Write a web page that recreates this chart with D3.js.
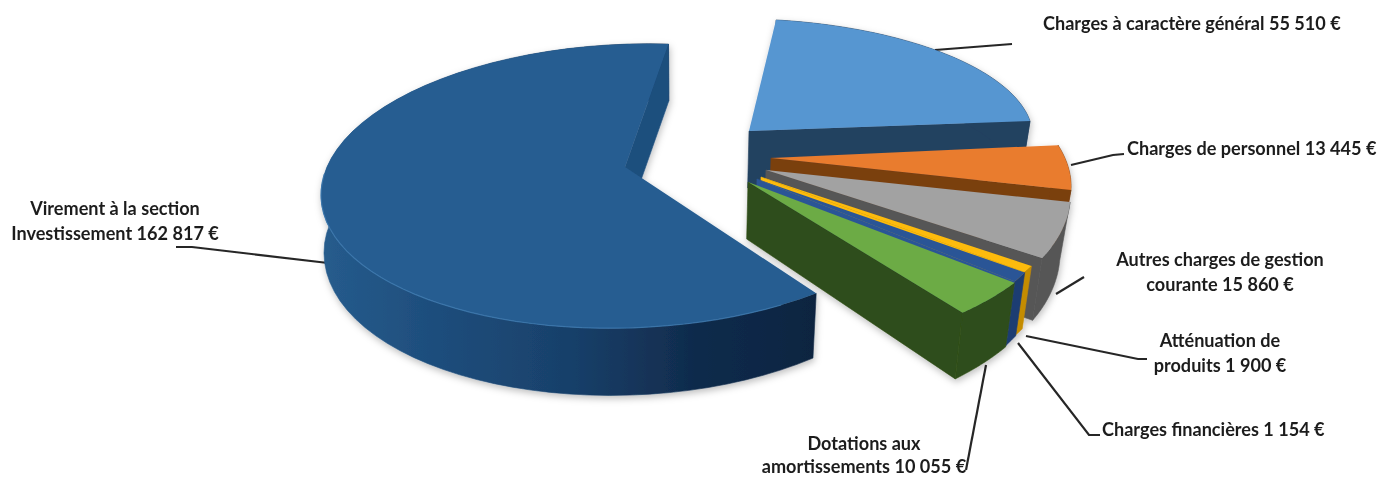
<!DOCTYPE html>
<html><head><meta charset="utf-8">
<script src="https://cdn.jsdelivr.net/npm/d3@7/dist/d3.min.js"></script>
<style>html,body{margin:0;padding:0;background:#fff;overflow:hidden}
text{font-family:Lato,Carlito,sans-serif;font-weight:700;font-size:18.1px;fill:#1c1c1c}</style>
</head><body><svg id="c" width="1381" height="477"></svg>
<script>
// ---- data
const categories = ["Charges à caractère général","Charges de personnel","Autres charges de gestion courante","Atténuation de produits","Charges financières","Dotations aux amortissements","Virement à la section Investissement"];
const values = [55510,13445,15860,1900,1154,10055,162817];
const labelLines = [
  ["Charges à caractère général 55 510 €"],
  ["Charges de personnel 13 445 €"],
  ["Autres charges de gestion","courante 15 860 €"],
  ["Atténuation de","produits 1 900 €"],
  ["Charges financières 1 154 €"],
  ["Dotations aux","amortissements 10 055 €"],
  ["Virement à la section","Investissement 162 817 €"]
];
// ---- styles
const topColors  = ["#5796d1","#e97b2e","#a2a2a2","#fdbb08","#2b5596","#6cab44","#265d91"];
const wallColors = ["#244260","#7a3f10","#565656","#c48c06","#1f3d72","#2f4d1a","url(#bigWall)"];
const endColors  = ["#244260","#7a3f10","#565656","#fdbb08","#2b5596","#2f4d1a","#1f4f7d"];
// ---- layout: per-slice projection of the unit circle (exploded, in perspective)
// apex (ax,ay), rim centre (cx,cy), x = cx + A sin + B cos, y = cy - (C sin + D cos)
const proj = [
  {ax:749,ay:131,cx:749,cy:131,A:283.6,B:-7.6,C:-2.5,D:112.2},
  {ax:771,ay:158,cx:771,cy:158,A:295,B:-55,C:-2.6,D:139.5},
  {ax:766,ay:170,cx:766,cy:170,A:300.6,B:-48.5,C:1.75,D:159.6},
  {ax:761,ay:177,cx:761,cy:177,A:307,B:-29,C:1.5,D:161},
  {ax:757,ay:179,cx:757,cy:179,A:425,B:121.9,C:117.5,D:314},
  {ax:748,ay:182,cx:748,cy:182,A:323,B:-21,C:5.8,D:170},
  {ax:625,ay:167,cx:629,cy:186,A:308,B:2,C:8,D:142}
];
const labelPos = [
  {x:1043,y:30,a:"start",lh:25},{x:1127,y:155,a:"start",lh:25},{x:1220,y:266,a:"middle",lh:25},
  {x:1220,y:347,a:"middle",lh:25},{x:1102,y:436,a:"start",lh:25},{x:864,y:450,a:"middle",lh:23},{x:115,y:215,a:"middle",lh:25}
];
const leaders = [
  [[935,50],[1012,44]],
  [[1071,165],[1113,155],[1124,154]],
  [[1056,294],[1084,277]],
  [[1026,336],[1138,359],[1147,359]],
  [[1018,343],[1089,435],[1100,435]],
  [[986,365],[966,470]],
  [[328,263],[192,247],[176,247]]
];
const startDeg = 7;

const svg = d3.select("#c");
const defs = svg.append("defs");
const g1 = defs.append("linearGradient").attr("id","bigWall").attr("gradientUnits","userSpaceOnUse")
  .attr("x1",320).attr("x2",820).attr("y1",0).attr("y2",0);
[[0,"#265c8d"],[.2,"#1f4f7e"],[.5,"#18406a"],[.75,"#102b4c"],[1,"#0b2440"]].forEach(s=>g1.append("stop").attr("offset",s[0]).attr("stop-color",s[1]));
const f = defs.append("filter").attr("id","sh").attr("x","-5%").attr("y","-5%").attr("width","110%").attr("height","115%");
f.append("feDropShadow").attr("dx",1).attr("dy",3).attr("stdDeviation",3.5).attr("flood-color","#000").attr("flood-opacity",.25);
const b = defs.append("filter").attr("id","soft").attr("x","-2%").attr("y","-2%").attr("width","104%").attr("height","104%");
b.append("feGaussianBlur").attr("stdDeviation",.55);

// perspective of the extrusion
const depth = d3.scaleLinear().domain([182,340]).range([57,68]);
const shiftX = d3.scaleLinear().domain([320,700,1033]).range([3,0,-9.3]);
const dn = p => { const d = Math.max(57,depth(p[1])); return [p[0]+shiftX(p[0]), p[1]+d]; };

const arcs = d3.pie().sort(null).startAngle(startDeg*Math.PI/180).endAngle((startDeg+360)*Math.PI/180)(values);
const line = d3.line();
const rim = (t,P) => [P.cx+P.A*Math.sin(t)+P.B*Math.cos(t), P.cy-(P.C*Math.sin(t)+P.D*Math.cos(t))];
const rimPts = (a,P) => d3.range(0,61).map(i=>rim(a.startAngle+(a.endAngle-a.startAngle)*i/60,P));

const root = svg.append("g").attr("filter","url(#soft)");

// leader lines
root.append("g").selectAll("path").data(leaders).join("path")
  .attr("d",d=>line(d)).attr("fill","none").attr("stroke","#262626").attr("stroke-width",2.2);

const pie = root.append("g").attr("filter","url(#sh)");
arcs.forEach((a,i)=>{
  const P = proj[i], pts = rimPts(a,P), apex=[P.ax,P.ay];
  const g = pie.append("g").attr("class","slice");
  const endP = pts[pts.length-1];
  const drawEnd = () => g.append("path").attr("fill",endColors[i]).attr("stroke",endColors[i]).attr("stroke-width",.6)
    .attr("d",line([apex,endP,dn(endP),dn(apex)])+"Z");
  const drawWall = () => g.append("path").attr("fill",wallColors[i]).attr("stroke",wallColors[i]).attr("stroke-width",.6)
    .attr("d",line(pts.concat(pts.map(dn).reverse()))+"Z");
  if(i===6){ drawWall(); drawEnd(); } else { drawEnd(); drawWall(); }
  g.append("path").attr("fill",topColors[i]).attr("d",line([apex].concat(pts))+"Z");
  if(i===6){
    const k = d3.range(0,41).map(j=>rim((150+j*3.2)*Math.PI/180,P));
    g.append("path").attr("d",line(k)).attr("fill","none").attr("stroke","#3f7ab0").attr("stroke-width",1.2).attr("opacity",.8);
  }
});

// labels
const lab = root.append("g");
labelLines.forEach((ls,i)=>{
  const t = lab.append("text").attr("text-anchor",labelPos[i].a);
  ls.forEach((s,j)=>t.append("tspan").attr("x",labelPos[i].x).attr("y",labelPos[i].y+j*labelPos[i].lh).text(s));
});
</script></body></html>
